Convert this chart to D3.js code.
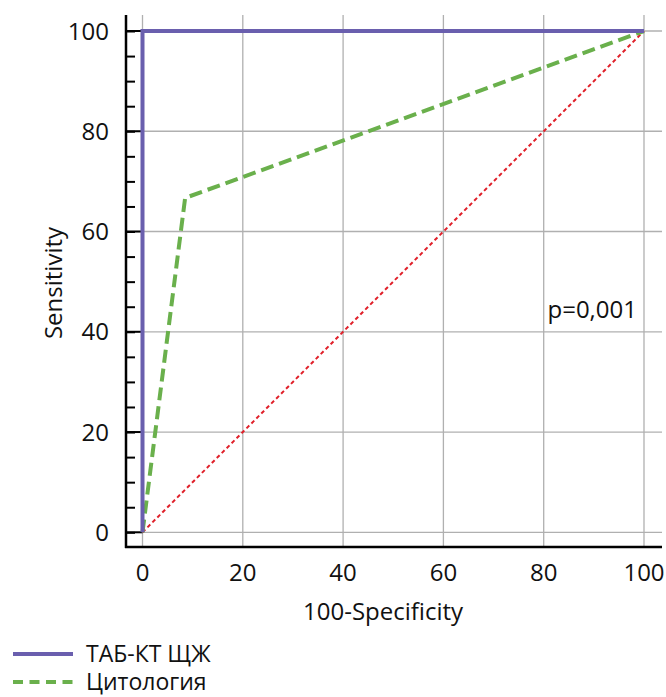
<!DOCTYPE html>
<html>
<head>
<meta charset="utf-8">
<script src="https://cdn.jsdelivr.net/npm/d3@7"></script>
<style>
  body { margin: 0; background: #fff; }
  text { font-family: "Open Sans", "Noto Sans", sans-serif; fill: #111; }
</style>
</head>
<body>
<div id="chart"></div>
<script>
// ROC curves
const seriesNames = ["ТАБ-КТ ЩЖ", "Цитология"];
const tabX = [0, 0, 100];
const tabY = [0, 100, 100];
const cytoX = [0, 8.5, 100];
const cytoY = [0, 66.7, 100];
const diagX = [0, 100];
const diagY = [0, 100];
const tickValues = [0, 20, 40, 60, 80, 100];
const minorTicks = d3.range(0, 101, 5);
const pLabel = "p=0,001";

let svg = d3.select("#chart").append("svg")
  .attr("width", 666)
  .attr("height", 697);

let fs = 24;

// plot box edges
let boxL = 126, boxR = 662, boxT = 15, boxB = 547;

let x = d3.scaleLinear().domain([0, 100]).range([142.5, 644]);
let y = d3.scaleLinear().domain([0, 100]).range([532.3, 31]);

let grid = svg.append("g").attr("id", "grid")
  .attr("stroke", "#b0b0b0")
  .attr("stroke-width", 1.3);

tickValues.forEach(d => {
  grid.append("line")
    .attr("x1", x(d)).attr("x2", x(d))
    .attr("y1", boxT).attr("y2", boxB);
  grid.append("line")
    .attr("x1", boxL).attr("x2", boxR)
    .attr("y1", y(d)).attr("y2", y(d));
});

// left axis with inner ticks
let yAxis = svg.append("g")
  .attr("transform", "translate(" + boxL + ",0)")
  .call(d3.axisRight(y).tickValues(minorTicks).tickSize(9).tickFormat(""));
yAxis.select(".domain").remove();
yAxis.selectAll("line").attr("stroke", "#000").attr("stroke-width", 2);
// major ticks reach the plot edge
tickValues.forEach(d => {
  svg.append("line")
    .attr("x1", boxL).attr("x2", x(0))
    .attr("y1", y(d)).attr("y2", y(d))
    .attr("stroke", "#000").attr("stroke-width", 2);
});

svg.append("line")
  .attr("x1", boxL).attr("x2", boxL)
  .attr("y1", boxT).attr("y2", boxB + 1)
  .attr("stroke", "#000").attr("stroke-width", 2.5);
svg.append("line")
  .attr("x1", boxL - 1).attr("x2", boxR)
  .attr("y1", boxB).attr("y2", boxB)
  .attr("stroke", "#000").attr("stroke-width", 2.5);

// tick labels
svg.append("g").selectAll("text")
  .data(tickValues).join("text")
  .attr("x", 109)
  .attr("y", d => y(d) + 8.5)
  .attr("text-anchor", "end")
  .attr("font-size", fs)
  .text(d => d);

svg.append("g").selectAll("text")
  .data(tickValues).join("text")
  .attr("x", d => x(d))
  .attr("y", 581)
  .attr("text-anchor", "middle")
  .attr("font-size", fs)
  .text(d => d);

svg.append("text")
  .attr("x", 383).attr("y", 620)
  .attr("text-anchor", "middle")
  .attr("font-size", fs)
  .text("100-Specificity");

svg.append("text")
  .attr("transform", "translate(62,283) rotate(-90)")
  .attr("text-anchor", "middle")
  .attr("font-size", fs)
  .text("Sensitivity");

svg.append("text")
  .attr("x", 637).attr("y", 318)
  .attr("text-anchor", "end")
  .attr("font-size", fs)
  .text(pLabel);

let line = d3.line().x(d => x(d[0])).y(d => y(d[1]));

svg.append("path")
  .datum(d3.zip(diagX, diagY))
  .attr("d", line)
  .attr("fill", "none")
  .attr("stroke", "#e0202a")
  .attr("stroke-width", 2)
  .attr("stroke-dasharray", "4,3");

svg.append("path")
  .datum(d3.zip(cytoX, cytoY))
  .attr("d", line)
  .attr("fill", "none")
  .attr("stroke", "#6ab04c")
  .attr("stroke-width", 4)
  .attr("stroke-dasharray", "13,6");

svg.append("path")
  .datum(d3.zip(tabX, tabY))
  .attr("d", line)
  .attr("fill", "none")
  .attr("stroke", "#6a5fae")
  .attr("stroke-width", 4);

// legend (kept tight to the bottom edge like the original)
let legend = svg.append("g").attr("id", "legend");
let styles = [
  { color: "#6a5fae", dash: null },
  { color: "#6ab04c", dash: "10,6.5" }
];
seriesNames.forEach((name, i) => {
  let ly = 654 + i * 28;
  legend.append("line")
    .attr("x1", 13).attr("x2", 73)
    .attr("y1", ly).attr("y2", ly)
    .attr("stroke", styles[i].color)
    .attr("stroke-width", 4)
    .attr("stroke-dasharray", styles[i].dash);
  legend.append("text")
    .attr("x", 86).attr("y", ly + 8)
    .attr("font-size", 23)
    .text(name);
});
</script>
</body>
</html>
